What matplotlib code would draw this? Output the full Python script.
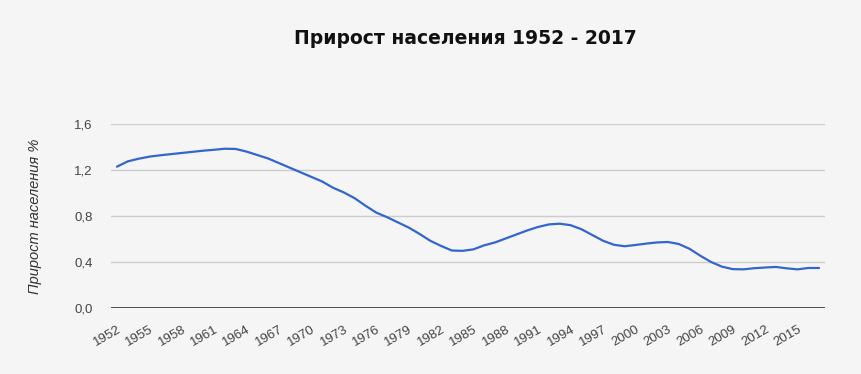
import numpy as np
from matplotlib import pyplot as plt

years = list(range(1952, 2018))
growth = [1.229, 1.275, 1.298, 1.316, 1.328, 1.338, 1.348, 1.358, 1.368, 1.376,
          1.385, 1.383, 1.360, 1.330, 1.300, 1.260, 1.220, 1.180, 1.140, 1.100,
          1.046, 1.005, 0.955, 0.890, 0.830, 0.790, 0.745, 0.700, 0.645, 0.585,
          0.540, 0.500, 0.497, 0.510, 0.545, 0.570, 0.605, 0.640, 0.675, 0.705,
          0.727, 0.733, 0.720, 0.685, 0.635, 0.585, 0.550, 0.537, 0.548, 0.560,
          0.570, 0.574, 0.557, 0.515, 0.455, 0.400, 0.360, 0.338, 0.336, 0.346,
          0.352, 0.357, 0.345, 0.336, 0.348, 0.348]
xtick_years = list(range(1952, 2016, 3))
yticks = [0.0, 0.4, 0.8, 1.2, 1.6]
ytick_labels = ['0,0', '0,4', '0,8', '1,2', '1,6']

bg = '#f5f5f5'
fig = plt.figure(figsize=(8.61, 3.74), dpi=100, facecolor=bg)
ax = fig.add_axes([111/861, 1-308/374, (825-111)/861, (308-124)/374])
ax.set_facecolor(bg)

ax.plot(years, growth, color='#3366cc', linewidth=1.6, solid_capstyle='round', zorder=3)

ax.set_xlim(1951.45, 2017.55)
ax.set_ylim(0, 1.6)
ax.set_yticks(yticks)
ax.set_yticklabels(ytick_labels)
ax.set_xticks(xtick_years)
ax.set_xticklabels([str(y) for y in xtick_years], rotation=30, ha='right', rotation_mode='anchor')

for s in ax.spines.values():
    s.set_visible(False)
ax.grid(axis='y', color='#cccccc', linewidth=1)
ax.set_axisbelow(True)
ax.axhline(0, color='#333333', linewidth=1.2, zorder=2)
ax.tick_params(length=0, labelsize=9.5, labelcolor='#444444')
ax.tick_params(axis='y', pad=13)
ax.tick_params(axis='x', pad=11)
for lab in ax.get_xticklabels() + ax.get_yticklabels():
    lab.set_family('Liberation Sans')

ax.set_ylabel('Прирост населения %', family='Liberation Sans', style='italic',
              fontsize=10.5, color='#333333', labelpad=23)
fig.text(0.541, 1-38/374, 'Прирост населения 1952 - 2017', ha='center', va='center',
         fontsize=13.5, fontweight='bold', family='DejaVu Sans', color='#111111')

plt.savefig('out.png', dpi=100, facecolor=bg)
